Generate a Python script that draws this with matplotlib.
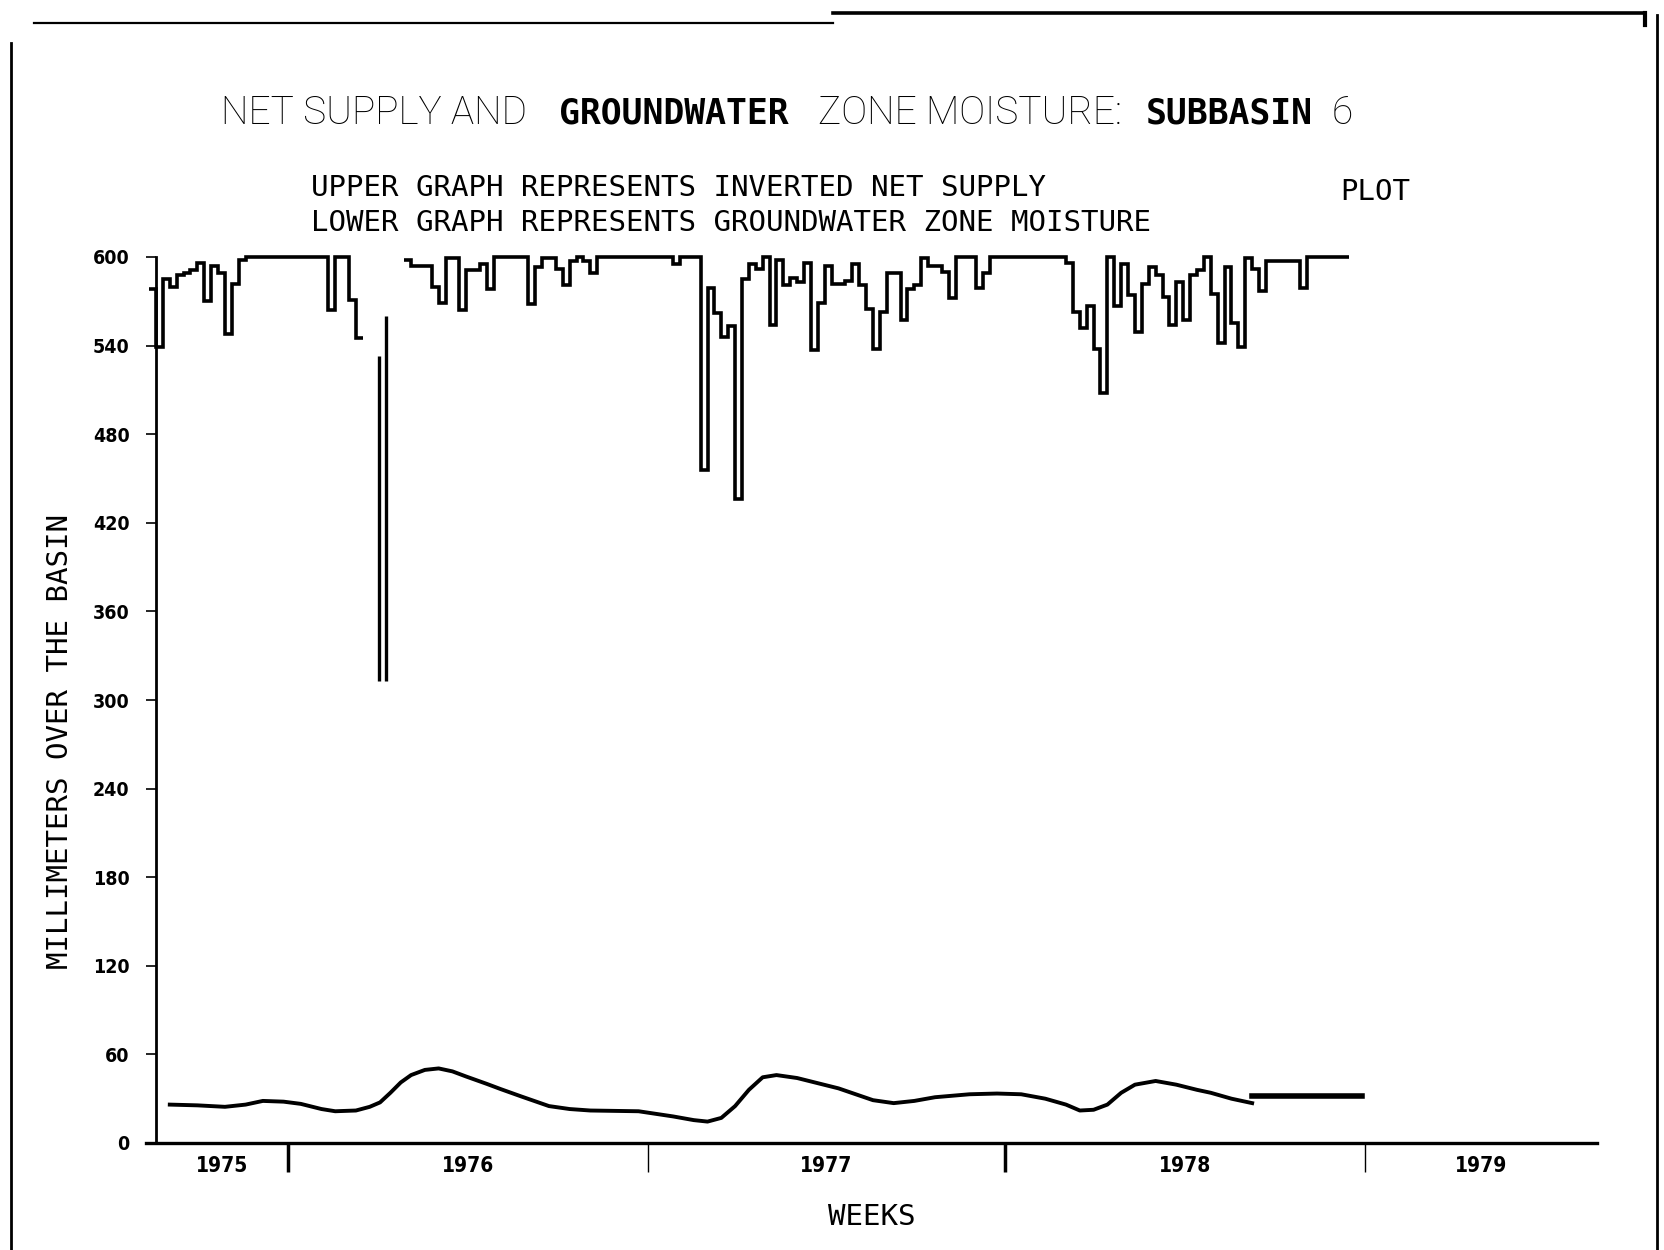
import matplotlib
matplotlib.use("Agg")
import matplotlib.pyplot as plt
from matplotlib.lines import Line2D
import numpy as np

# inverted net supply (600 - weekly net supply), mm, one value per week
supply_a_start = -1
supply_a = [578, 539, 585, 580, 588, 589, 591, 596, 570, 594, 589, 548, 582, 598,
            600, 600, 600, 600, 600, 600, 600, 600, 600, 600, 600, 600,
            564, 600, 600, 571, 545]

# pen dropped out here: only the two sides of a deep spike were drawn
spike_weeks = [32.3, 33.4]
spike_tops = [533, 560]
spike_bottom = 313

supply_b_start = 36
supply_b = [598, 594, 594, 594, 580, 569, 599, 599, 564, 591, 591, 595, 578,
            600, 600, 600, 600, 600, 568, 593, 599, 599, 592, 581, 597, 600, 597, 589,
            600, 600, 600, 600, 600, 600, 600, 600, 600, 600, 600,
            595, 600, 600, 600, 456, 579, 562, 546, 553, 436, 585, 595, 592, 600,
            554, 598, 581, 586, 583, 596, 537, 569, 594, 582, 582, 584, 595, 581,
            565, 538, 563, 589, 589, 557, 578, 581, 599, 594, 594, 590, 572,
            600, 600, 600, 579, 589,
            600, 600, 600, 600, 600, 600, 600, 600, 600, 600, 600,
            596, 563, 552, 567, 538, 508, 600, 567, 595, 574, 549, 582, 593, 588,
            573, 554, 583, 557, 588, 591, 600, 575, 542, 593, 555, 539, 599, 592,
            577, 597, 597, 597, 597, 597, 579,
            600, 600, 600, 600, 600, 600]

# groundwater zone moisture, mm
gw_weeks = [2, 6, 10, 13, 15.5, 18.5, 21, 24, 26, 29, 31, 32.5, 34, 35.5, 37, 39, 41,
            43, 45, 48, 50, 53, 57, 60, 63, 70, 75, 78, 80, 82, 84, 86, 88, 90, 93,
            96, 99, 101.5, 104, 107, 110, 113, 118, 122, 125.5, 129, 132, 134, 136,
            138, 140, 142, 145, 148, 151, 153, 156, 159]
gw_mm = [26, 25.5, 24.5, 26, 28.5, 28, 26.5, 23, 21.5, 22, 24.5, 27.5, 34, 41, 46,
         49.5, 50.5, 48.5, 45, 40, 36.5, 31.5, 25, 23, 22, 21.5, 18, 15.5, 14.5, 17, 25,
         36, 44.5, 46, 44, 40.5, 37, 33, 29, 27, 28.5, 31, 33, 33.5, 33, 30, 26, 22,
         22.5, 26, 34, 39.5, 42, 39.5, 36, 34, 30, 27]
gw_flat_weeks = [159, 175]
gw_flat_mm = 32

years = ["1975", "1976", "1977", "1978", "1979"]
year_bounds = [19.2, 71.4, 123.1, 175.3]
year_tick_w = [2.5, 1.0, 2.5, 1.0]
year_tick_c = ["black", "0.55", "black", "0.55"]
week_max = 209

y_ticks = list(range(0, 601, 60))

mono = "DejaVu Sans Mono"

fig = plt.figure(figsize=(16.64, 12.5), dpi=100)
ax = fig.add_axes([0.09375, 0.0856, 0.8659, 0.7088])

edges_a = np.arange(supply_a_start, supply_a_start + len(supply_a) + 1)
edges_b = np.arange(supply_b_start, supply_b_start + len(supply_b) + 1)
ax.stairs(supply_a, edges_a, baseline=None, color="black", lw=2.6, clip_on=False)
ax.stairs(supply_b, edges_b, baseline=None, color="black", lw=2.6, clip_on=False)
ax.vlines(spike_weeks, spike_bottom, spike_tops, color="black", lw=2.4)

ax.plot(gw_weeks, gw_mm, color="black", lw=2.8)
ax.plot(gw_flat_weeks, [gw_flat_mm, gw_flat_mm], color="black", lw=4)

ax.set_xlim(0, week_max)
ax.set_ylim(0, 600)
for s in ["top", "right"]:
    ax.spines[s].set_visible(False)
ax.spines["left"].set_linewidth(2)
ax.spines["bottom"].set_linewidth(2.4)
ax.spines["bottom"].set_bounds(-1.5, week_max)

ax.set_yticks(y_ticks, labels=[str(v) for v in y_ticks], fontfamily="DejaVu Sans",
              fontweight="bold", fontstretch="condensed", fontsize=14)
ax.tick_params(axis="y", direction="out", length=7, width=1.2, pad=12)

edges = [0] + year_bounds + [week_max]
year_mid = [(a + b) / 2 for a, b in zip(edges[:-1], edges[1:])]
ax.set_xticks(year_bounds, labels=[])
ax.set_xticks(year_mid, labels=years, minor=True, fontfamily="DejaVu Sans",
              fontweight="bold", fontstretch="condensed", fontsize=15)
ax.tick_params(axis="x", which="major", direction="out", length=21, width=1.5)
ax.tick_params(axis="x", which="minor", length=0, pad=9)
for tick, w, c in zip(ax.xaxis.get_major_ticks(), year_tick_w, year_tick_c):
    tick.tick1line.set_markeredgewidth(w)
    tick.tick1line.set_color(c)

# title: thin and bold pieces, as on the plotter output
title_parts = ["NET SUPPLY AND", "GROUNDWATER", "ZONE MOISTURE:", "SUBBASIN", "6"]
title_bold = [False, True, False, True, False]
title_x = [221, 559, 818, 1146, 1332]
for txt, bold, x in zip(title_parts, title_bold, title_x):
    if bold:
        fig.text(x / 1664, 0.9008, txt, fontfamily=mono, fontweight="bold",
                 fontsize=25, va="baseline")
    else:
        fig.text(x / 1664, 0.9008, txt, fontfamily="Roboto", fontweight="light",
                 fontsize=28, va="baseline")

fig.text(0.1869, 0.8432, "UPPER GRAPH REPRESENTS INVERTED NET SUPPLY",
         fontfamily=mono, fontsize=21, va="baseline")
fig.text(0.1869, 0.8152, "LOWER GRAPH REPRESENTS GROUNDWATER ZONE MOISTURE",
         fontfamily=mono, fontsize=21, va="baseline")
fig.text(0.8053, 0.8400, "PLOT", fontfamily=mono, fontsize=21, va="baseline")

fig.text(0.036, 0.407, "MILLIMETERS OVER THE BASIN", fontfamily=mono, fontsize=21,
         rotation=90, ha="center", va="center")
fig.text(0.524, 0.0264, "WEEKS", fontfamily=mono, fontsize=21, ha="center", va="center")

# page border from the scanned sheet
frame = [([0.0064, 0.0064], [0.966, 0.0], 2.0),
         ([0.9958, 0.9958], [0.988, 0.0], 2.0),
         ([0.0204, 0.5006], [0.9816, 0.9816], 1.6),
         ([0.5006, 0.9886], [0.9896, 0.9896], 2.6),
         ([0.9886, 0.9886], [0.9896, 0.980], 3.0)]
for xs, ys, lw in frame:
    fig.add_artist(Line2D(xs, ys, transform=fig.transFigure, color="black", lw=lw))

fig.savefig("out.png", dpi=100, facecolor="white")
